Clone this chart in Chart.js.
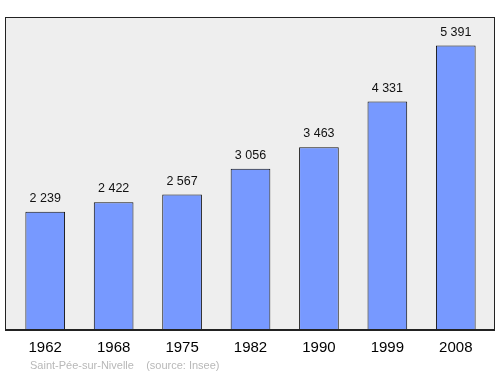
<!DOCTYPE html>
<html>
<head>
<meta charset="utf-8">
<script src="https://cdn.jsdelivr.net/npm/chart.js@4"></script>
<style>
  html, body { margin: 0; padding: 0; background: #fff; }
  #wrap { width: 500px; height: 374px; }
</style>
</head>
<body>
<div id="wrap"><canvas id="myChart"></canvas></div>
<script>
const years = ["1962", "1968", "1975", "1982", "1990", "1999", "2008"];
const population = [2239, 2422, 2567, 3056, 3463, 4331, 5391];
const valueLabels = ["2 239", "2 422", "2 567", "3 056", "3 463", "4 331", "5 391"];
const sourceText = "Saint-Pée-sur-Nivelle    (source: Insee)";

const FONT = "'Liberation Sans', Arial, sans-serif";

// grey frame behind the bars
const framePlugin = {
  id: "frame",
  beforeDatasetsDraw(chart) {
    const ctx = chart.ctx;
    const a = chart.chartArea;
    ctx.save();
    ctx.fillStyle = "#eeeeee";
    ctx.fillRect(5, a.top, 490, a.bottom - a.top);
    ctx.restore();
  },
  afterDatasetsDraw(chart) {
    const ctx = chart.ctx;
    const a = chart.chartArea;
    ctx.save();
    ctx.strokeStyle = "#222";
    ctx.lineWidth = 1;
    ctx.strokeRect(5.5, a.top + 0.5, 489, a.bottom - a.top);
    ctx.lineWidth = 2;
    ctx.beginPath();
    ctx.moveTo(5, a.bottom);
    ctx.lineTo(495, a.bottom);
    ctx.stroke();
    ctx.restore();
  },
  afterDraw(chart) {
    const ctx = chart.ctx;
    ctx.save();
    // values above bars
    ctx.font = "12.5px " + FONT;
    ctx.fillStyle = "#111";
    ctx.textAlign = "center";
    ctx.textBaseline = "bottom";
    chart.getDatasetMeta(0).data.forEach(function (bar, i) {
      ctx.fillText(valueLabels[i], bar.x, bar.y - 7);
    });
    // source line
    ctx.font = "11px " + FONT;
    ctx.fillStyle = "#b8b8b8";
    ctx.textAlign = "left";
    ctx.textBaseline = "middle";
    ctx.fillText(sourceText, 30, 366);
    ctx.restore();
  },
};

new Chart(document.getElementById("myChart"), {
  type: "bar",
  data: {
    labels: years,
    datasets: [
      {
        data: population,
        backgroundColor: "#7799ff",
        borderColor: "#111",
        borderWidth: 1,
        borderSkipped: false,
        categoryPercentage: 1,
        barPercentage: 0.58,
      },
    ],
  },
  options: {
    responsive: true,
    maintainAspectRatio: false,
    animation: false,
    layout: { padding: { left: 11, right: 10, top: 17, bottom: 0 } },
    plugins: { legend: { display: false }, tooltip: { enabled: false } },
    scales: {
      x: {
        grid: { display: false, drawTicks: false },
        border: { display: false },
        ticks: { color: "#000", font: { family: FONT, size: 15 }, padding: 9 },
        afterFit(scale) { scale.height = 44; },
      },
      y: { display: false, min: 0, max: 5930 },
    },
  },
  plugins: [framePlugin],
});
</script>
</body>
</html>
